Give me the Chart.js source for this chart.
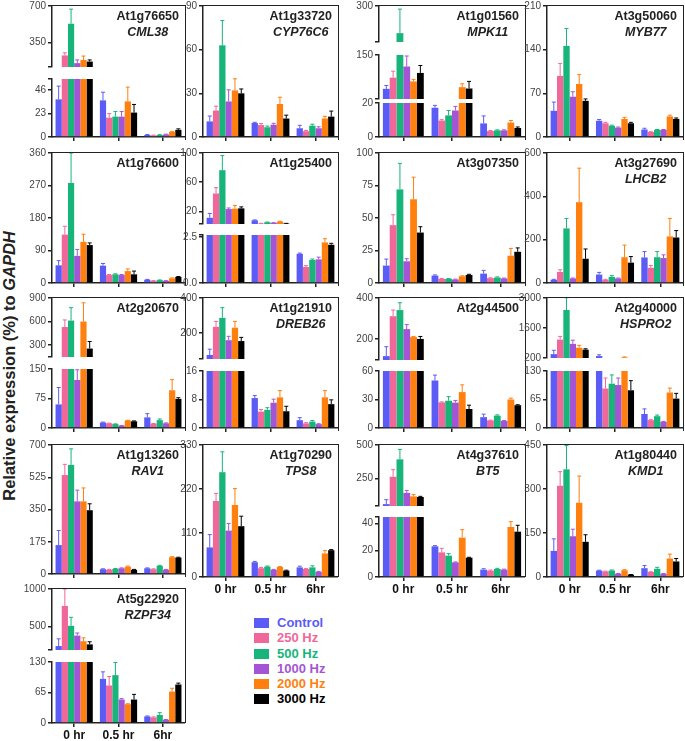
<!DOCTYPE html>
<html>
<head>
<meta charset="utf-8">
<script src="https://cdn.jsdelivr.net/npm/chart.js@4/dist/chart.umd.min.js"></script>
<style>
  body { margin: 0; width: 685px; height: 741px; position: relative; overflow: hidden; background: #fff;
         font-family: "Liberation Sans", Arial, sans-serif; }
  canvas { position: absolute; }
  .frame { position: absolute; border-top: 1.5px solid #222; border-right: 1.5px solid #222; box-sizing: border-box; }
  .title { position: absolute; text-align: center; font-weight: bold; font-size: 12.5px; line-height: 16px; color: #222; white-space: nowrap; }
  .title i { display: block; }
  .ylab { position: absolute; left: 9px; top: 366px; transform: translate(-50%, -50%) rotate(-90deg);
          white-space: nowrap; font-weight: bold; font-size: 16.5px; color: #222; }
  .legend { position: absolute; left: 254px; top: 615px; font-weight: bold; font-size: 13px; }
  .legend div { height: 15.3px; line-height: 15.3px; white-space: nowrap; }
  .legend span { display: inline-block; width: 15px; height: 10px; margin-right: 8px; vertical-align: -1px; }
</style>
</head>
<body>
<div class="ylab">Relative expression (%) to <i>GAPDH</i></div>
<script>
const times = ["0 hr", "0.5 hr", "6hr"];
const series = ["Control", "250 Hz", "500 Hz", "1000 Hz", "2000 Hz", "3000 Hz"];
const colors = ["#5b5bf5", "#f0689a", "#17b57a", "#a455d6", "#ff7f0f", "#000000"];

// each array: one row per series (Control..3000 Hz), columns = 0 hr, 0.5 hr, 6 hr
const cml38 = [[37, 36, 2], [226, 19, 1.5], [530, 20, 2], [152, 20, 2.5], [183, 35, 5], [167, 24, 7]];
const cml38Err = [[13, 8, 0.5], [25, 4, 0.3], [140, 5, 0.3], [31, 5, 0.3], [37, 14, 0.5], [16, 8, 1]];

const cyp76c6 = [[10.7, 9.6, 6], [18.2, 8.2, 4], [63, 6.7, 7.8], [24.4, 8.4, 6], [32, 22.7, 12.7], [30, 12.7, 14]];
const cyp76c6Err = [[3.7, 0.5, 2], [3, 1, 0.5], [17, 0.8, 1], [8, 1, 1], [8, 4.6, 1.5], [3, 2.3, 3.8]];

const mpk11 = [[50, 17.2, 8], [83, 9.7, 3.5], [187, 12.7, 3.9], [116, 15.6, 3.9], [72, 55, 8.5], [97, 51, 5.3]];
const mpk11Err = [[10, 1.4, 4.4], [19, 0.5, 0.3], [100, 2.9, 0.3], [31, 2.4, 0.3], [6, 10, 1.2], [22, 21, 0.6]];

const myb77 = [[42, 26, 12], [98, 22, 8], [146, 18, 11.5], [64.6, 15, 11.5], [85, 29, 33], [58, 22, 29]];
const myb77Err = [[14, 2, 2], [20, 1.5, 0.5], [28, 1, 0.5], [8, 1, 0.5], [15, 2.5, 2], [3, 1.5, 1.5]];

const at1g76600 = [[49, 48, 9], [134, 22, 6], [277, 24, 8], [75, 22, 6], [114, 33, 13], [105, 24, 17]];
const at1g76600Err = [[13, 6, 1], [23, 1.5, 0.5], [83, 1.5, 0.5], [18, 1.5, 0.5], [21, 6, 1], [6, 9, 1]];

const at1g25400 = [[11, 7.6, 1.58], [44.4, 3.1, 0.87], [76.4, 4.9, 1.25], [23, 4, 1.28], [23.5, 5.8, 2.2], [24, 3.1, 2.07]];
const at1g25400Err = [[6, 0.5, 0.04], [8, 0.3, 0.07], [20, 0.3, 0.05], [1.5, 0.3, 0.12], [4.5, 0.5, 0.2], [2, 0.3, 0.08]];

const at3g07350 = [[13.4, 5.7, 7.2], [44.5, 3.2, 3.7], [72, 3.2, 4.2], [16.7, 2.7, 3.5], [64.4, 5.2, 21], [38.8, 6.2, 24]];
const at3g07350Err = [[5, 0.5, 2.5], [8, 0.3, 0.3], [20, 0.3, 0.5], [2, 0.3, 0.3], [17, 0.3, 5.6], [4.5, 0.5, 3]];

const lhcb2 = [[15, 39, 118], [51, 15, 70], [252, 28, 119], [21, 21, 115], [373, 119, 215], [112, 94, 210]];
const lhcb2Err = [[2, 10, 27], [10, 2, 11], [46, 6, 26], [2, 2, 15], [157, 56, 83], [45, 28, 32]];

const at2g20670 = [[60, 14, 27], [531, 12, 11], [613, 10, 20], [122, 6, 12], [601, 19, 96], [257, 17, 74]];
const at2g20670Err = [[43, 1, 9.5], [90, 0.5, 0.5], [164, 0.5, 3], [26, 0.5, 1], [238, 0.5, 27], [90, 1, 3]];

const dreb26 = [[76, 8.4, 2.2], [236, 4.6, 1.3], [287, 5.1, 1.8], [160, 7.1, 1.1], [231, 8.6, 8.6], [155, 4.7, 6.7]];
const dreb26Err = [[33, 0.7, 0.7], [31, 0.6, 0.2], [58, 0.6, 0.3], [22, 1, 0.1], [36, 1.9, 1.9], [21, 1.4, 1.2]];

const at2g44500 = [[116, 50, 11.4], [311, 27, 8], [341, 28.7, 13], [248, 26.7, 7.5], [209, 37.8, 30], [200, 20, 24]];
const at2g44500Err = [[46, 5.7, 3.2], [30, 0.5, 0.3], [36, 4.3, 0.8], [22, 2.3, 0.3], [3, 7.6, 1.4], [12, 4, 0.5]];

const hspro2 = [[380, 290, 32], [1058, 90, 18], [2440, 101, 27], [860, 98, 14], [680, 230, 81], [590, 86, 67]];
const hspro2Err = [[180, 60, 11.6], [150, 24, 1], [570, 20, 2.5], [170, 16, 1], [110, 20, 10], [40, 22, 12]];

const rav1 = [[157, 26, 31], [537, 23, 26], [592, 28, 44], [394, 31, 23], [394, 40, 91], [346, 23, 89]];
const rav1Err = [[79, 2, 2], [58, 2, 2], [87, 2, 3], [61, 2, 2], [73, 3, 3], [35, 2, 2]];

const tps8 = [[74, 37, 24], [190, 22, 20], [262, 26, 24], [116, 18, 13], [180, 25, 59], [127, 16, 67]];
const tps8Err = [[32, 2, 3], [19, 2, 1], [51, 1.5, 4], [18, 1, 1], [41, 1, 7], [25, 1, 1.5]];

const bt5 = [[59, 23, 5.5], [263, 18.5, 4.8], [393, 16, 6], [143, 11, 5.5], [117, 29.5, 37.5], [112, 14.5, 34]];
const bt5Err = [[33, 0.5, 0.7], [53, 3, 0.4], [74, 1.5, 0.5], [18, 0.3, 0.4], [13, 6, 4], [5, 0.3, 4.8]];

const kmd1 = [[89, 22, 30], [311, 19, 17], [367, 22, 28], [139, 11, 11], [253, 23, 63], [120, 8, 53]];
const kmd1Err = [[41, 1, 9], [48, 1, 1], [81, 2, 5], [24, 1, 1], [91, 2, 15], [24, 0.5, 10]];

const rzpf34 = [[239, 94, 14], [774, 80, 12], [509, 102, 17], [378, 50, 7], [304, 40, 67], [261, 50, 82]];
const rzpf34Err = [[96, 15, 1], [226, 19, 1], [113, 27, 5], [35, 2, 0.5], [44, 1, 7], [35, 11, 3]];

// page layout: plot box edges per column / row
const colX = [[52, 185], [203, 338], [379, 525], [547, 683]];
const rowY = [[5, 140], [152, 286], [297, 431], [444, 577], [588, 723]];

// segs: y-ranges of each (broken) axis piece, y = pixel offsets from the panel top
const panels = [
  { id: "At1g76650", gene: "CML38", col: 0, row: 0, vals: cml38, errs: cml38Err,
    segs: [{ min: 115, max: 700, ticks: [350, 700], y: [0, 63] }, { min: 0, max: 57, ticks: [0, 23, 46], y: [73, 135] }] },
  { id: "At1g33720", gene: "CYP76C6", col: 1, row: 0, vals: cyp76c6, errs: cyp76c6Err,
    segs: [{ min: 0, max: 90, ticks: [0, 30, 60, 90], y: [0, 135] }] },
  { id: "At1g01560", gene: "MPK11", col: 2, row: 0, vals: mpk11, errs: mpk11Err,
    segs: [{ min: 150, max: 300, ticks: [300], y: [0, 38] }, { min: 20, max: 150, ticks: [150], y: [49, 95] },
           { min: 0, max: 20, ticks: [0, 20], y: [97, 135] }] },
  { id: "At3g50060", gene: "MYB77", col: 3, row: 0, vals: myb77, errs: myb77Err,
    segs: [{ min: 0, max: 210, ticks: [0, 70, 140, 210], y: [0, 135] }] },

  { id: "At1g76600", col: 0, row: 1, vals: at1g76600, errs: at1g76600Err,
    segs: [{ min: 0, max: 360, ticks: [0, 90, 180, 270, 360], y: [0, 134] }] },
  { id: "At1g25400", col: 1, row: 1, vals: at1g25400, errs: at1g25400Err,
    segs: [{ min: 2.5, max: 100, ticks: [20, 60, 100], y: [0, 73] }, { min: 0, max: 2.6, ticks: [0, 2.5], y: [82, 134], dec: true }] },
  { id: "At3g07350", col: 2, row: 1, vals: at3g07350, errs: at3g07350Err,
    segs: [{ min: 0, max: 100, ticks: [0, 25, 50, 75, 100], y: [0, 134] }] },
  { id: "At3g27690", gene: "LHCB2", col: 3, row: 1, vals: lhcb2, errs: lhcb2Err,
    segs: [{ min: 0, max: 600, ticks: [0, 200, 400, 600], y: [0, 134] }] },

  { id: "At2g20670", col: 0, row: 2, vals: at2g20670, errs: at2g20670Err,
    segs: [{ min: 150, max: 900, ticks: [300, 600, 900], y: [0, 61] }, { min: 0, max: 150, ticks: [0, 75, 150], y: [71, 134] }] },
  { id: "At1g21910", gene: "DREB26", col: 1, row: 2, vals: dreb26, errs: dreb26Err,
    segs: [{ min: 53, max: 400, ticks: [200, 400], y: [0, 63] }, { min: 0, max: 16, ticks: [0, 8, 16], y: [73, 134] }] },
  { id: "At2g44500", col: 2, row: 2, vals: at2g44500, errs: at2g44500Err,
    segs: [{ min: 97, max: 400, ticks: [200, 400], y: [0, 64] }, { min: 0, max: 60, ticks: [0, 30, 60], y: [73, 134] }] },
  { id: "At2g40000", gene: "HSPRO2", col: 3, row: 2, vals: hspro2, errs: hspro2Err,
    segs: [{ min: 200, max: 3000, ticks: [200, 1600, 3000], y: [0, 62] }, { min: 0, max: 130, ticks: [0, 65, 130], y: [73, 134] }] },

  { id: "At1g13260", gene: "RAV1", col: 0, row: 3, vals: rav1, errs: rav1Err,
    segs: [{ min: 0, max: 700, ticks: [0, 175, 350, 525, 700], y: [0, 133] }] },
  { id: "At1g70290", gene: "TPS8", col: 1, row: 3, vals: tps8, errs: tps8Err, xlab: true,
    segs: [{ min: 0, max: 330, ticks: [0, 110, 220, 330], y: [0, 133] }] },
  { id: "At4g37610", gene: "BT5", col: 2, row: 3, vals: bt5, errs: bt5Err, xlab: true,
    segs: [{ min: 45, max: 500, ticks: [250, 500], y: [0, 63] }, { min: 0, max: 45, ticks: [0, 20, 40], y: [72, 133] }] },
  { id: "At1g80440", gene: "KMD1", col: 3, row: 3, vals: kmd1, errs: kmd1Err, xlab: true,
    segs: [{ min: 0, max: 450, ticks: [0, 150, 300, 450], y: [0, 133] }] },

  { id: "At5g22920", gene: "RZPF34", col: 0, row: 4, vals: rzpf34, errs: rzpf34Err, xlab: true,
    segs: [{ min: 186, max: 1000, ticks: [500, 1000], y: [0, 63] }, { min: 0, max: 130, ticks: [0, 65, 130], y: [73, 135] }] }
];

const AXIS = "#222";
const PAD_L = 40, PAD_T = 7;

// upper error whiskers, placed with the chart's own y scale;
// only drawn where the bar top itself falls inside this axis piece
const errPlugin = {
  id: "errbars",
  afterDatasetsDraw(chart) {
    const { ctx, chartArea: a } = chart;
    const y = chart.scales.y;
    ctx.save();
    ctx.beginPath();
    ctx.rect(a.left, a.top - 1, a.right - a.left, a.bottom - a.top + 1);
    ctx.clip();
    chart.data.datasets.forEach((ds, i) => {
      chart.getDatasetMeta(i).data.forEach((bar, j) => {
        const v = ds.data[j];
        if (v < y.min || v > y.max) return;
        const y0 = y.getPixelForValue(v);
        const y1 = y.getPixelForValue(v + ds.err[j]);
        ctx.strokeStyle = ds.backgroundColor;
        ctx.lineWidth = 1;
        ctx.beginPath();
        ctx.moveTo(bar.x, y0);
        ctx.lineTo(bar.x, y1);
        ctx.moveTo(bar.x - 2, y1);
        ctx.lineTo(bar.x + 2, y1);
        ctx.stroke();
      });
    });
    ctx.restore();
  }
};

function addSegment(p, seg, isLast) {
  const [x0, x1] = colX[p.col];
  const rowTop = rowY[p.row][0];
  const h = seg.y[1] - seg.y[0];
  const xH = isLast ? (p.xlab ? 22 : 5) : 0;
  const padB = isLast ? 0 : 7;
  const W = PAD_L + x1 - x0, H = PAD_T + h + xH + padB;

  const canvas = document.createElement("canvas");
  canvas.width = W;
  canvas.height = H;
  canvas.style.left = (x0 - PAD_L) + "px";
  canvas.style.top = (rowTop + seg.y[0] - PAD_T) + "px";
  canvas.style.width = W + "px";
  canvas.style.height = H + "px";
  document.body.appendChild(canvas);

  let tickVals = seg.ticks.slice();
  if (p.segs.length > 1) {
    if (!tickVals.includes(seg.min)) tickVals.push(seg.min);
    if (!tickVals.includes(seg.max)) tickVals.push(seg.max);
  }
  tickVals.sort((a, b) => a - b);

  new Chart(canvas, {
    type: "bar",
    data: {
      labels: times,
      datasets: series.map((s, i) => ({
        label: s,
        data: p.vals[i],
        err: p.errs[i],
        backgroundColor: colors[i],
        borderWidth: 0,
        clip: 0,
        barPercentage: 1,
        categoryPercentage: 0.84
      }))
    },
    options: {
      responsive: false,
      animation: false,
      devicePixelRatio: 1,
      layout: { padding: { top: PAD_T, bottom: padB, left: 0, right: 0 } },
      plugins: { legend: { display: false }, tooltip: { enabled: false } },
      scales: {
        x: {
          display: isLast,
          grid: { offset: false, drawOnChartArea: false, tickLength: 4, color: AXIS, lineWidth: 1.5 },
          border: { display: true, color: AXIS, width: 1.5 },
          ticks: { display: !!p.xlab, autoSkip: false, maxRotation: 0, padding: 1, color: "#111",
                   font: { family: "Liberation Sans", size: 12, weight: "bold" } },
          afterFit: s => { s.height = xH; }
        },
        y: {
          min: seg.min,
          max: seg.max,
          afterBuildTicks: s => { s.ticks = tickVals.map(v => ({ value: v })); },
          afterFit: s => { s.width = PAD_L; },
          grid: { drawOnChartArea: false, tickLength: 4, color: AXIS, lineWidth: 1.5 },
          border: { display: true, color: AXIS, width: 1.5 },
          ticks: {
            autoSkip: false, padding: 2, color: "#444",
            font: { family: "Liberation Sans", size: 10 },
            callback: v => seg.ticks.includes(v) ? (seg.dec ? v.toFixed(1) : String(v)) : ""
          }
        }
      }
    },
    plugins: [errPlugin]
  });
}

panels.forEach(p => {
  p.segs.forEach((seg, k) => addSegment(p, seg, k === p.segs.length - 1));

  const [x0, x1] = colX[p.col];
  const [y0, y1] = rowY[p.row];
  const frame = document.createElement("div");
  frame.className = "frame";
  frame.style.left = x0 + "px";
  frame.style.top = y0 + "px";
  frame.style.width = (x1 - x0 + 1) + "px";
  frame.style.height = (y1 - y0) + "px";
  document.body.appendChild(frame);

  const title = document.createElement("div");
  title.className = "title";
  title.style.right = (685 - (x1 - 6)) + "px";
  title.style.top = (y0 + 3) + "px";
  title.textContent = p.id;
  if (p.gene) {
    const g = document.createElement("i");
    g.textContent = p.gene;
    title.appendChild(g);
  }
  document.body.appendChild(title);
});

// legend
const legend = document.createElement("div");
legend.className = "legend";
series.forEach((s, i) => {
  const row = document.createElement("div");
  row.style.color = colors[i];
  const box = document.createElement("span");
  box.style.background = colors[i];
  row.appendChild(box);
  row.appendChild(document.createTextNode(s));
  legend.appendChild(row);
});
document.body.appendChild(legend);
</script>
</body>
</html>
